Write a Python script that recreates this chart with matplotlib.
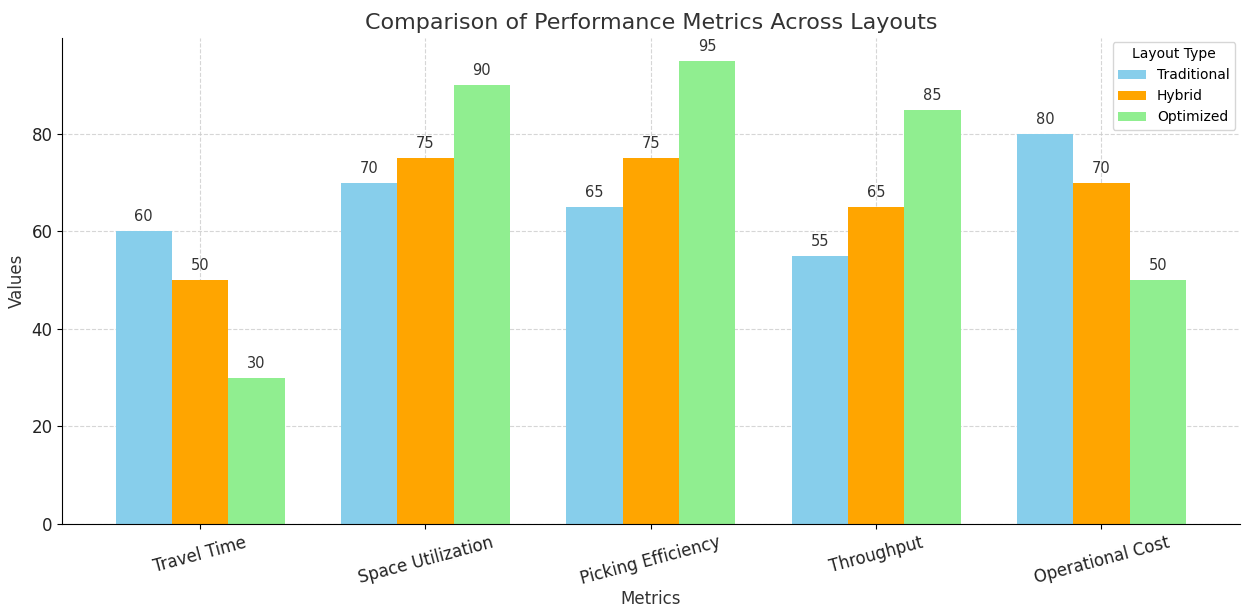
import matplotlib.pyplot as plt
import numpy as np

metrics = ['Travel Time', 'Space Utilization', 'Picking Efficiency', 'Throughput', 'Operational Cost']
traditional = [60, 70, 65, 55, 80]
hybrid = [50, 75, 75, 65, 70]
optimized = [30, 90, 95, 85, 50]

x = np.arange(len(metrics))
width = 0.25

fig, ax = plt.subplots(figsize=(12.42, 6.09), dpi=100)
b1 = ax.bar(x - width, traditional, width, label='Traditional', color='skyblue')
b2 = ax.bar(x, hybrid, width, label='Hybrid', color='orange')
b3 = ax.bar(x + width, optimized, width, label='Optimized', color='lightgreen')

for bars in (b1, b2, b3):
    ax.bar_label(bars, padding=5, fontsize=10.5, color='#333333')

ax.set_title('Comparison of Performance Metrics Across Layouts', fontsize=16, color='#333333')
ax.set_xlabel('Metrics', fontsize=12, color='#333333', labelpad=1)
ax.set_ylabel('Values', fontsize=12, color='#333333')
ax.set_xticks(x)
ax.set_xticklabels(metrics, rotation=15, fontsize=12, color='#222222')
ax.tick_params(axis='y', labelsize=12, labelcolor='#222222')
ax.grid(True, linestyle='--', color='#cccccc', alpha=0.8)
ax.set_axisbelow(True)
ax.spines['top'].set_visible(False)
ax.spines['right'].set_visible(False)
ax.legend(title='Layout Type', fontsize=10, title_fontsize=10, borderaxespad=0.3)

plt.subplots_adjust(left=0.05, right=0.998, top=0.938, bottom=0.14)
plt.savefig('out.png')
